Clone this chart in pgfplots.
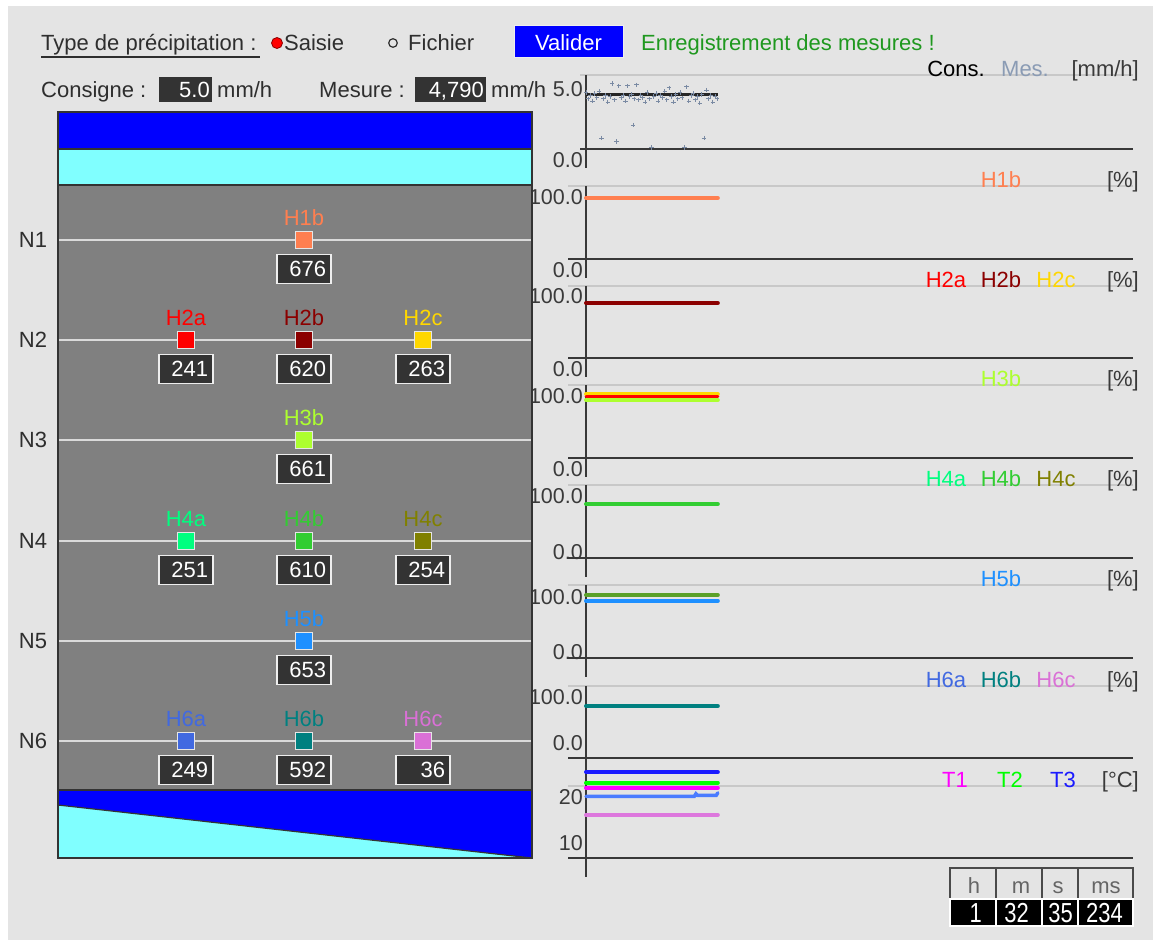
\documentclass[border=0pt]{standalone}
\usepackage{fontspec}
\setmainfont{Liberation Sans}
\usepackage{pgfplots}
\pgfplotsset{compat=1.18}

\definecolor{bg}{HTML}{E4E4E4}
\definecolor{txt}{HTML}{2E2E2E}
\definecolor{labc}{HTML}{3A3A3A}
\definecolor{gridc}{HTML}{C8C8C8}
\definecolor{axc}{HTML}{383838}
\definecolor{boxc}{HTML}{333333}
\definecolor{boxb}{HTML}{EEEEEE}
\definecolor{colgray}{HTML}{808080}
\definecolor{colb}{HTML}{333333}
\definecolor{bandblue}{HTML}{0000FF}
\definecolor{bandcyan}{HTML}{80FFFF}
\definecolor{lvl}{HTML}{DADADA}
\definecolor{sqb}{HTML}{E6E6E6}
\definecolor{okgreen}{HTML}{1F981F}
\definecolor{mesc}{HTML}{7A8AA3}
\definecolor{mesl}{HTML}{8A9BB4}
\definecolor{clk}{HTML}{4A4A4A}
\definecolor{cH1b}{HTML}{FF7F50}
\definecolor{cH2a}{HTML}{FF0000}
\definecolor{cH2b}{HTML}{8B0000}
\definecolor{cH2c}{HTML}{FFD700}
\definecolor{cH3b}{HTML}{ADFF2F}
\definecolor{cH4a}{HTML}{00FF7F}
\definecolor{cH4b}{HTML}{32CD32}
\definecolor{cH4c}{HTML}{808000}
\definecolor{cH5b}{HTML}{1E90FF}
\definecolor{cH6a}{HTML}{4169E1}
\definecolor{cH6b}{HTML}{008080}
\definecolor{cH6c}{HTML}{DA70D6}
\definecolor{cmix}{HTML}{5AA028}
\definecolor{cT1}{HTML}{FF00FF}
\definecolor{cT2}{HTML}{00FF00}
\definecolor{cT3}{HTML}{1A1AFF}
\definecolor{cT6a}{HTML}{4A7BFF}
\definecolor{cT6c}{HTML}{DD77DD}

\newcommand\ui{\fontsize{22}{26}\selectfont}
\newcommand\tk{\fontsize{21.5}{24}\selectfont}

\pgfplotsset{
  strip/.style={scale only axis, width=547pt, xmin=0, xmax=100, clip=false,
    anchor=south west,
    axis line style={draw=none}, tick style={draw=none}, xtick=\empty,
    /pgf/number format/assume math mode=true,
    yticklabel style={font=\tk, text=labc, anchor=east, inner sep=0pt, xshift=-3pt}},
  dl/.style={line width=4pt, line cap=round},
}
\tikzset{valbox/.style={fill=boxc, draw=boxb, line width=1.2pt, text=white,
    text width=44pt, align=right, inner xsep=5pt, inner ysep=0pt, minimum height=29pt}}

% #1 left extension of the horizontal lines, #2 upward extension of the vertical
\newcommand\stripframe[2]{%
  \draw[gridc, line width=1.2pt] ([xshift=-#1]rel axis cs:0,1) -- (rel axis cs:1,1);
  \draw[axc, line width=1.5pt] ([xshift=-#1]rel axis cs:0,0) -- (rel axis cs:1,0);
  \draw[axc, line width=1.5pt] ([yshift=#2]rel axis cs:0,1) -- ([yshift=-19pt]rel axis cs:0,0);
}

% x, y, name, value, colour
\newcommand\sensor[5]{%
  \addplot[only marks, mark=square*, mark size=8.8pt,
    mark options={fill=#5, draw=sqb, line width=1pt}] coordinates {(#1,#2)};
  \node[text=#5] at ([yshift=22pt]axis cs:#1,#2) {#3};
  \node[valbox] at ([yshift=-29pt]axis cs:#1,#2) {#4};
}

\begin{document}
\begin{tikzpicture}[x=1pt, y=1pt, font=\ui]
\fill[white] (0,0) rectangle (1153,-940);
\fill[bg] (8,-6) rectangle (1153,-940);

% header
\node[anchor=base west, text=txt, inner sep=0pt] at (41,-50) {Type de précipitation :};
\draw[txt, line width=1.5pt] (41,-57) -- (260,-57);
\fill[red] (277,-43) circle (5.5);
\draw[cH2b, line width=0.8pt] (277,-43) circle (5.5);
\node[anchor=base west, text=txt, inner sep=0pt] at (284,-50) {Saisie};
\draw[txt, line width=1.2pt] (393,-43) circle (4.3);
\node[anchor=base west, text=txt, inner sep=0pt] at (408,-50) {Fichier};
\fill[bandblue] (514,-25) rectangle (623,-57);
\draw[boxb, line width=1pt] (514,-25) rectangle (623,-57);
\node[anchor=base, text=white, inner sep=0pt] at (568.5,-50) {Valider};
\node[anchor=base west, text=okgreen, inner sep=0pt] at (641,-50) {Enregistrement des mesures !};

\node[anchor=base west, text=txt, inner sep=0pt] at (41,-97) {Consigne :};
\fill[boxc] (159,-77) rectangle (212,-102);
\node[anchor=base east, text=white, inner sep=0pt] at (210,-97) {5.0};
\node[anchor=base west, text=txt, inner sep=0pt] at (217,-97) {mm/h};
\node[anchor=base west, text=txt, inner sep=0pt] at (319,-97) {Mesure :};
\fill[boxc] (415,-77) rectangle (486,-102);
\node[anchor=base east, text=white, inner sep=0pt] at (484,-97) {4,790};
\node[anchor=base west, text=txt, inner sep=0pt] at (491,-97) {mm/h};

% strip 1: rain
\begin{axis}[strip, at={(586pt,-149pt)}, height=74pt, ymin=0, ymax=6.79,
  ytick={5}, yticklabels={5.0}, yticklabel style={yshift=5.5pt},
  extra y ticks={0}, extra y tick labels={0.0},
  extra y tick style={yticklabel style={yshift=-16.5pt}}]
\stripframe{6pt}{0pt}
\addplot[only marks, mark=+, mark size=2.2pt, color=mesc, line width=1pt] coordinates {
 (0.0,5.2) (0.4,4.6) (0.8,4.9) (1.2,4.4) (1.6,5.1) (2.0,4.7) (2.4,5.3) (2.8,1.0)
 (3.2,4.6) (3.6,4.9) (4.0,4.3) (4.4,4.8) (4.8,6.0) (5.2,4.5) (5.6,0.7) (6.0,5.8)
 (6.4,4.7) (6.8,4.9) (7.2,4.4) (7.6,5.8) (8.0,4.8) (8.4,5.0) (8.6,2.2) (8.8,4.6)
 (9.2,5.9) (9.6,4.5) (10.0,4.9) (10.4,4.7) (10.8,4.3) (11.2,5.2) (11.6,4.6) (12.0,0.15)
 (12.4,4.8) (12.8,5.1) (13.2,4.4) (13.6,4.9) (14.0,4.7) (14.4,5.3) (14.8,4.5) (15.2,5.6)
 (15.6,4.8) (16.0,4.3) (16.4,5.0) (16.8,4.6) (17.2,5.2) (17.6,4.7) (18.0,0.15) (18.4,5.7)
 (18.8,4.4) (19.2,4.9) (19.6,5.1) (20.0,4.5) (20.4,4.8) (20.8,4.2) (21.2,5.0) (21.6,1.0)
 (22.0,5.4) (22.4,4.6) (22.8,4.9) (23.2,4.3) (23.6,4.8) (24.0,4.6)};
\addplot[black!85, line width=3pt] coordinates {(0,5) (24.1,5)};
\end{axis}
\node[anchor=base, text=black, inner sep=0pt] at (956,-76) {Cons.};
\node[anchor=base, text=mesl, inner sep=0pt] at (1025,-76) {Mes.};
\node[anchor=base east, text=labc, inner sep=0pt] at (1139,-76) {[mm/h]};

% strip 2: H1
\begin{axis}[strip, at={(586pt,-259pt)}, height=73pt, ymin=0, ymax=117.7,
  ytick={100}, yticklabels={100.0},
  extra y ticks={0}, extra y tick labels={0.0},
  extra y tick style={yticklabel style={yshift=-11pt}}]
\stripframe{18pt}{0pt}
\addplot[dl, cH1b] coordinates {(0,98.4) (24.1,98.4)};
\end{axis}
\node[anchor=base, text=cH1b, inner sep=0pt] at (1001,-187) {H1b};
\node[anchor=base east, text=labc, inner sep=0pt] at (1139,-187) {[\%]};

% strip 3: H2
\begin{axis}[strip, at={(586pt,-358pt)}, height=72pt, ymin=0, ymax=116.1,
  ytick={100}, yticklabels={100.0},
  extra y ticks={0}, extra y tick labels={0.0},
  extra y tick style={yticklabel style={yshift=-11pt}}]
\stripframe{18pt}{0pt}
\addplot[dl, cH2b] coordinates {(0,88.7) (24.1,88.7)};
\end{axis}
\node[anchor=base, text=cH2a, inner sep=0pt] at (946,-287) {H2a};
\node[anchor=base, text=cH2b, inner sep=0pt] at (1001,-287) {H2b};
\node[anchor=base, text=cH2c, inner sep=0pt] at (1056,-287) {H2c};
\node[anchor=base east, text=labc, inner sep=0pt] at (1139,-287) {[\%]};

% strip 4: H3
\begin{axis}[strip, at={(586pt,-458pt)}, height=73pt, ymin=0, ymax=117.7,
  ytick={100}, yticklabels={100.0},
  extra y ticks={0}, extra y tick labels={0.0},
  extra y tick style={yticklabel style={yshift=-11pt}}]
\stripframe{18pt}{0pt}
\addplot[dl, cH2c] coordinates {(0,103.2) (24.1,103.2)};
\addplot[dl, cH3b] coordinates {(0,93.5) (24.1,93.5)};
\addplot[dl, line width=3pt, cH2a] coordinates {(0,99.2) (24.1,99.2)};
\end{axis}
\node[anchor=base, text=cH3b, inner sep=0pt] at (1001,-386) {H3b};
\node[anchor=base east, text=labc, inner sep=0pt] at (1139,-386) {[\%]};

% strip 5: H4
\begin{axis}[strip, at={(586pt,-558pt)}, height=73pt, ymin=0, ymax=117.7,
  ytick={100}, yticklabels={100.0},
  extra y ticks={0}, extra y tick labels={0.0},
  extra y tick style={yticklabel style={yshift=6pt}}]
\stripframe{18pt}{0pt}
\addplot[dl, cH4b] coordinates {(0,87.1) (24.1,87.1)};
\end{axis}
\node[anchor=base, text=cH4a, inner sep=0pt] at (946,-486) {H4a};
\node[anchor=base, text=cH4b, inner sep=0pt] at (1001,-486) {H4b};
\node[anchor=base, text=cH4c, inner sep=0pt] at (1056,-486) {H4c};
\node[anchor=base east, text=labc, inner sep=0pt] at (1139,-486) {[\%]};

% strip 6: H5
\begin{axis}[strip, at={(586pt,-658pt)}, height=73pt, ymin=0, ymax=119.7,
  ytick={100}, yticklabels={100.0},
  extra y ticks={0}, extra y tick labels={0.0},
  extra y tick style={yticklabel style={yshift=6pt}}]
\stripframe{18pt}{0pt}
\addplot[dl, cH5b] coordinates {(0,93.9) (24.1,93.9)};
\addplot[dl, cmix] coordinates {(0,103.3) (24.1,103.3)};
\end{axis}
\node[anchor=base, text=cH5b, inner sep=0pt] at (1001,-586) {H5b};
\node[anchor=base east, text=labc, inner sep=0pt] at (1139,-586) {[\%]};

% strip 7: H6
\begin{axis}[strip, at={(586pt,-758pt)}, height=72pt, ymin=0, ymax=118.0,
  ytick={100}, yticklabels={100.0},
  extra y ticks={0}, extra y tick labels={0.0},
  extra y tick style={yticklabel style={yshift=15pt}}]
\stripframe{18pt}{0pt}
\addplot[dl, cH6b] coordinates {(0,85.2) (24.1,85.2)};
\end{axis}
\node[anchor=base, text=cH6a, inner sep=0pt] at (946,-687) {H6a};
\node[anchor=base, text=cH6b, inner sep=0pt] at (1001,-687) {H6b};
\node[anchor=base, text=cH6c, inner sep=0pt] at (1056,-687) {H6c};
\node[anchor=base east, text=labc, inner sep=0pt] at (1139,-687) {[\%]};

% strip 8: temperatures
\begin{axis}[strip, at={(586pt,-858pt)}, height=72pt, ymin=6.74, ymax=22.39,
  ytick={10,20}, yticklabels={10,20}]
\stripframe{18pt}{26pt}
\addplot[dl, cT6c] coordinates {(0,16.1) (24.1,16.1)};
\addplot[dl, line width=3.5pt, cT6a] coordinates {(0,20.15) (19.8,20.15) (20.1,20.7) (20.4,20.35) (23.8,20.35) (24.1,20.9)};
\addplot[dl, cT1] coordinates {(0,22.0) (24.1,22.0)};
\addplot[dl, cT2] coordinates {(0,23.1) (24.1,23.1)};
\addplot[dl, cT3] coordinates {(0,25.43) (24.1,25.43)};
\end{axis}
\node[anchor=base, text=cT1, inner sep=0pt] at (955,-787) {T1};
\node[anchor=base, text=cT2, inner sep=0pt] at (1010,-787) {T2};
\node[anchor=base, text=cT3, inner sep=0pt] at (1063,-787) {T3};
\node[anchor=base east, text=labc, inner sep=0pt] at (1139,-787) {[°C]};

% clock
\draw[clk, line width=1.5pt] (950,-898) -- (950,-868) -- (1133,-868) -- (1133,-898);
\foreach \x in {996,1042,1078} \draw[clk, line width=1.5pt] (\x,-868) -- (\x,-898);
\node[anchor=base, text=clk!85!white, inner sep=0pt] at (974,-893) {h};
\node[anchor=base, text=clk!85!white, inner sep=0pt] at (1021,-893) {m};
\node[anchor=base, text=clk!85!white, inner sep=0pt] at (1058,-893) {s};
\node[anchor=base, text=clk!85!white, inner sep=0pt] at (1106,-893) {ms};
\fill[black] (950,-899) rectangle (1133,-926);
\draw[white, line width=1.2pt] (950,-899) rectangle (1133,-926);
\foreach \x in {996,1042,1078} \draw[white, line width=1.2pt] (\x,-899) -- (\x,-926);
\node[anchor=base east, text=white, inner sep=0pt] at (982,-922) {\scalebox{1}[1.25]{1}};
\node[anchor=base east, text=white, inner sep=0pt] at (1029,-922) {\scalebox{1}[1.25]{32}};
\node[anchor=base east, text=white, inner sep=0pt] at (1073,-922) {\scalebox{1}[1.25]{35}};
\node[anchor=base east, text=white, inner sep=0pt] at (1123,-922) {\scalebox{1}[1.25]{234}};

% soil column
\fill[colgray] (58,-185) rectangle (532,-790);
\fill[bandblue] (58,-112) rectangle (532,-149);
\fill[bandcyan] (58,-149) rectangle (532,-185);
\fill[bandblue] (58,-790) rectangle (532,-858);
\fill[bandcyan] (58,-805) -- (532,-858) -- (58,-858) -- cycle;
\draw[colb, line width=1.2pt] (58,-805) -- (532,-858);
\draw[colb, line width=1.2pt] (58,-149) -- (532,-149);
\draw[colb, line width=1.2pt] (58,-185) -- (532,-185);
\draw[colb, line width=1.2pt] (58,-790) -- (532,-790);
\foreach \y/\n in {240/N1,340/N2,440/N3,541/N4,641/N5,741/N6} {
  \draw[lvl, line width=1.6pt] (58,-\y) -- (532,-\y);
  \node[text=txt] at (33,-\y) {\n};
}
\draw[colb, line width=1.5pt] (58,-112) rectangle (532,-858);

\begin{axis}[scale only axis, width=474pt, height=746pt, at={(58pt,-858pt)},
  anchor=south west, xmin=58, xmax=532, ymin=-858, ymax=-112, hide axis, clip=false]
\sensor{304}{-240}{H1b}{676}{cH1b}
\sensor{186}{-340}{H2a}{241}{cH2a}
\sensor{304}{-340}{H2b}{620}{cH2b}
\sensor{423}{-340}{H2c}{263}{cH2c}
\sensor{304}{-440}{H3b}{661}{cH3b}
\sensor{186}{-541}{H4a}{251}{cH4a}
\sensor{304}{-541}{H4b}{610}{cH4b}
\sensor{423}{-541}{H4c}{254}{cH4c}
\sensor{304}{-641}{H5b}{653}{cH5b}
\sensor{186}{-741}{H6a}{249}{cH6a}
\sensor{304}{-741}{H6b}{592}{cH6b}
\sensor{423}{-741}{H6c}{36}{cH6c}
\end{axis}
\end{tikzpicture}
\end{document}
